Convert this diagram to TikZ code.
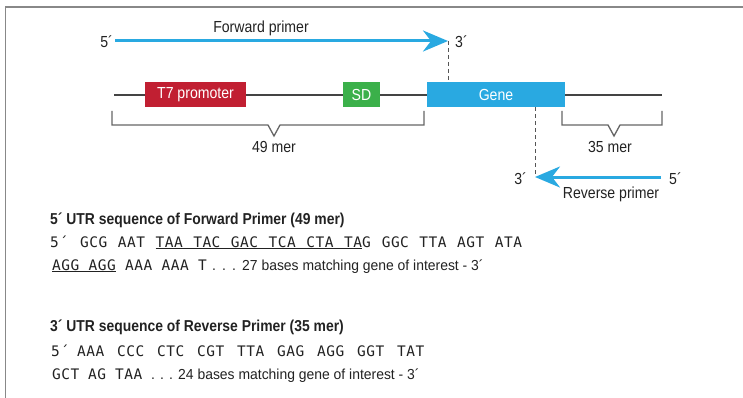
\documentclass[tikz,border=0pt]{standalone}
\usepackage{fontspec}
\setmainfont[FakeStretch=0.88]{Liberation Sans}
\newfontfamily\bodyfont[FakeStretch=0.96]{Liberation Sans}
\newfontfamily\seqfont[LetterSpace=3.4]{DejaVu Sans Mono}
\usetikzlibrary{arrows.meta}
\definecolor{pblue}{HTML}{29A9E1}
\definecolor{t7red}{HTML}{C11F32}
\definecolor{sdgreen}{HTML}{3BB04A}
\definecolor{dnagray}{HTML}{444444}
\definecolor{dashgray}{HTML}{555555}
\definecolor{bracegray}{HTML}{666666}
\definecolor{framegray}{HTML}{888888}
\definecolor{txtgray}{HTML}{222222}
\newcommand{\bx}[2]{\makebox[#1pt][l]{#2}}
\begin{document}
\begin{tikzpicture}[x=1pt,y=-1pt,
  lbl/.style={font=\fontsize{16}{19}\selectfont, inner sep=0pt, text=txtgray},
  gbox/.style={minimum height=25pt, inner sep=0pt, text=white, font=\fontsize{16}{19}\selectfont},
  primer/.style={draw=pblue, line width=3pt, -{Stealth[length=25pt,width=21pt,inset=8pt,fill=pblue]}},
  guide/.style={draw=dashgray, line width=0.9pt, dash pattern=on 4pt off 3pt},
  bracket/.style={draw=bracegray, line width=1.3pt},
  txt/.style={anchor=base west, inner sep=0pt, text=txtgray, font=\fontsize{14.5}{17}\selectfont\bodyfont\fontsize{14.5}{17}\selectfont},
  head/.style={anchor=base west, inner sep=0pt, text=txtgray, font=\fontsize{15.8}{18}\selectfont\bfseries},
]
\useasboundingbox (0,0) rectangle (743,398);
\draw[framegray, line width=1.5pt] (743,7) -- (5.5,7) -- (5.5,398);

% DNA
\coordinate (dnaL) at (114,95);
\coordinate (dnaR) at (662,95);
\draw[dnagray, line width=2pt] (dnaL) -- (dnaR);
\node[gbox, fill=t7red, minimum width=101pt] (t7) at (195.5,94.5) {T7 promoter};
\node[gbox, fill=sdgreen, minimum width=37pt] (sd) at (361.5,94.5) {SD};
\node[gbox, fill=pblue, minimum width=138pt] (gene) at (496,94.5) {Gene};

% forward primer
\coordinate (f5) at (115,41);
\coordinate (f3) at (448,41);
\draw[primer] (f5) -- (f3);
\node[lbl, anchor=east] (f5l) at (113,42) {5´};
\node[lbl, anchor=west] (f3l) at (455,42) {3´};
\node[lbl] (fwd) at (261,28) {Forward primer};
\draw[guide] (f3) -- (f3 |- gene.north);

% reverse primer
\coordinate (r5) at (661,177);
\coordinate (r3) at (535,177);
\draw[primer] (r5) -- (r3);
\node[lbl, anchor=east] (r3l) at (527,179) {3´};
\node[lbl, anchor=west] (r5l) at (669,179) {5´};
\node[lbl] (rev) at (611,194) {Reverse primer};
\draw[guide] (r3 |- gene.south) -- (r3);

% brackets
\draw[bracket] (112,111) -- (112,125) -- (268,125) -- (274,136) -- (280,125) -- (424,125) -- (424,111);
\node[lbl] (m49) at (274,147) {49 mer};
\draw[bracket] (562,111) -- (562,125) -- (608,125) -- (614,136) -- (620,125) -- (662,125) -- (662,111);
\node[lbl] (m35) at (610,147) {35 mer};

% sequences
\node[head] (h1) at (50,224) {5´ UTR sequence of Forward Primer (49 mer)};
\node[txt] (s1) at (50,247) {{\seqfont\bx{30}{5´}\bx{37.7}{GCG}\bx{37.7}{AAT}\bx{226.2}{\underline{\bx{37.7}{TAA}\bx{37.7}{TAC}\bx{37.7}{GAC}\bx{37.7}{TCA}\bx{37.7}{CTA}TA}G}\bx{37.7}{GGC}\bx{37.7}{TTA}\bx{37.7}{AGT}ATA}};
\node[txt] (s2) at (52,270) {{\seqfont\bx{73}{\underline{\bx{36.5}{AGG}AGG}}\bx{36.5}{AAA}\bx{36.5}{AAA}\bx{14}{T}}\bx{10}{.}\bx{10}{.}\bx{10}{.}27 bases matching gene of interest - 3´};
\node[head] (h2) at (50,331) {3´ UTR sequence of Reverse Primer (35 mer)};
\node[txt] (s3) at (51,356) {{\seqfont\bx{26}{5´}\bx{40}{AAA}\bx{40}{CCC}\bx{40}{CTC}\bx{40}{CGT}\bx{40}{TTA}\bx{40}{GAG}\bx{40}{AGG}\bx{40}{GGT}TAT}};
\node[txt] (s4) at (52,379) {{\seqfont\bx{36}{GCT}\bx{27}{AG}\bx{36}{TAA}}\bx{9}{.}\bx{9}{.}\bx{9}{.}24 bases matching gene of interest - 3´};
\end{tikzpicture}
\end{document}
